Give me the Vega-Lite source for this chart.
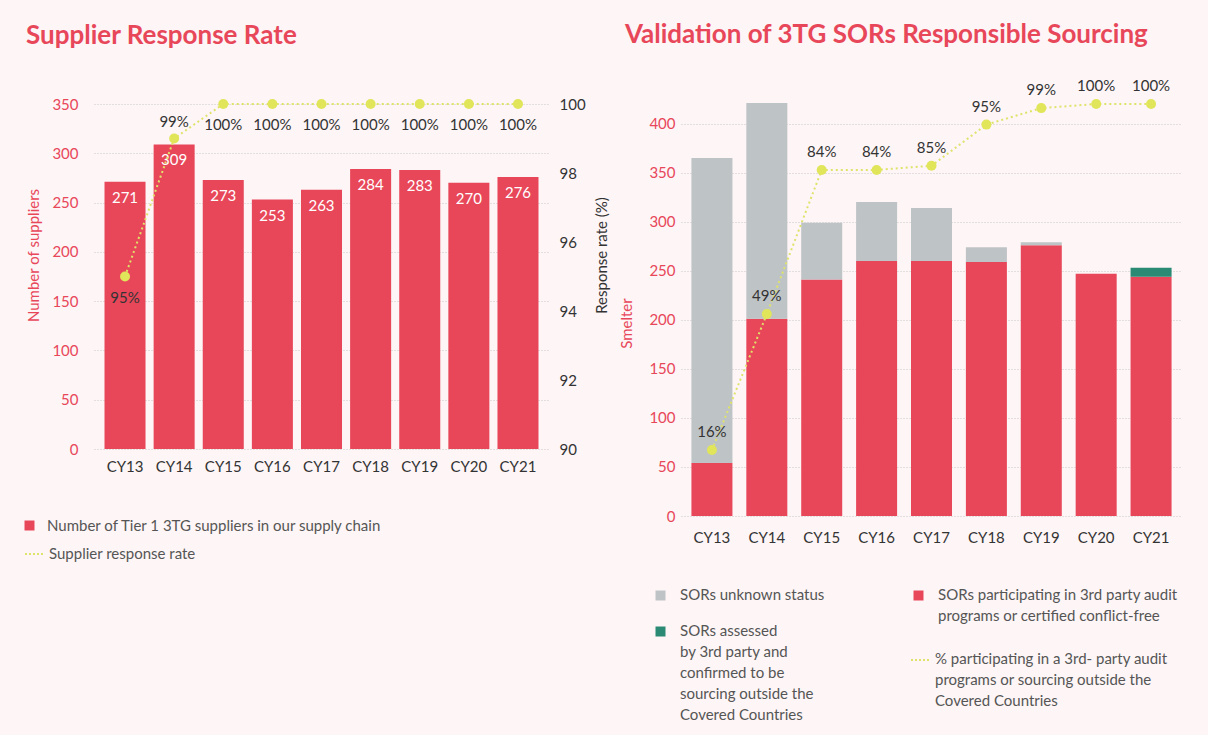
{
  "$schema": "https://vega.github.io/schema/vega-lite/v6.json",
  "background": "#fdf5f6",
  "padding": {"left": 22, "top": 22, "right": 26, "bottom": 12},
  "spacing": 9,
  "config": {
    "font": "Lato",
    "view": {"stroke": null},
    "axis": {
      "labelFont": "Lato", "titleFont": "Lato", "domain": false, "ticks": false,
      "labelFontSize": 15, "titleFontSize": 15, "titleFontWeight": "normal",
      "gridColor": "#c9c9c9", "gridDash": [1, 2], "gridWidth": 1
    },
    "title": {"font": "Lato", "fontSize": 26, "fontWeight": "bold", "color": "#E8475A", "anchor": "start"},
    "legend": {"labelFont": "Lato", "labelFontSize": 15, "labelColor": "#555555"}
  },
  "datasets": {
    "supp": [
      {"year": "CY13", "suppliers": 271, "rate": 95, "label": "95%"},
      {"year": "CY14", "suppliers": 309, "rate": 99, "label": "99%"},
      {"year": "CY15", "suppliers": 273, "rate": 100, "label": "100%"},
      {"year": "CY16", "suppliers": 253, "rate": 100, "label": "100%"},
      {"year": "CY17", "suppliers": 263, "rate": 100, "label": "100%"},
      {"year": "CY18", "suppliers": 284, "rate": 100, "label": "100%"},
      {"year": "CY19", "suppliers": 283, "rate": 100, "label": "100%"},
      {"year": "CY20", "suppliers": 270, "rate": 100, "label": "100%"},
      {"year": "CY21", "suppliers": 276, "rate": 100, "label": "100%"}
    ],
    "sors": [
      {"year": "CY13", "key": "audit", "value": 54},
      {"year": "CY13", "key": "unknown", "value": 311},
      {"year": "CY14", "key": "audit", "value": 201},
      {"year": "CY14", "key": "unknown", "value": 220},
      {"year": "CY15", "key": "audit", "value": 241},
      {"year": "CY15", "key": "unknown", "value": 58},
      {"year": "CY16", "key": "audit", "value": 260},
      {"year": "CY16", "key": "unknown", "value": 60},
      {"year": "CY17", "key": "audit", "value": 260},
      {"year": "CY17", "key": "unknown", "value": 54},
      {"year": "CY18", "key": "audit", "value": 259},
      {"year": "CY18", "key": "unknown", "value": 15},
      {"year": "CY19", "key": "audit", "value": 276},
      {"year": "CY19", "key": "unknown", "value": 3},
      {"year": "CY20", "key": "audit", "value": 247},
      {"year": "CY21", "key": "audit", "value": 244},
      {"year": "CY21", "key": "outside", "value": 9}
    ],
    "pct": [
      {"year": "CY13", "pct": 16, "label": "16%"},
      {"year": "CY14", "pct": 49, "label": "49%"},
      {"year": "CY15", "pct": 84, "label": "84%"},
      {"year": "CY16", "pct": 84, "label": "84%"},
      {"year": "CY17", "pct": 85, "label": "85%"},
      {"year": "CY18", "pct": 95, "label": "95%"},
      {"year": "CY19", "pct": 99, "label": "99%"},
      {"year": "CY20", "pct": 100, "label": "100%"},
      {"year": "CY21", "pct": 100, "label": "100%"}
    ]
  },
  "resolve": {"scale": {"color": "independent", "stroke": "independent", "fill": "independent"}},
  "hconcat": [
    {
      "title": {"text": "Supplier Response Rate", "offset": 48, "dx": 4},
      "width": 455,
      "height": 345,
      "data": {"name": "supp"},
      "encoding": {
        "x": {
          "field": "year", "type": "nominal",
          "scale": {"paddingInner": 0.165, "paddingOuter": 0.214},
          "axis": {"title": null, "labelAngle": 0, "labelColor": "#333333", "labelPadding": 10}
        }
      },
      "layer": [
        {
          "layer": [
            {
              "mark": {"type": "bar"},
              "encoding": {
                "y": {
                  "field": "suppliers", "type": "quantitative",
                  "scale": {"domain": [0, 350], "nice": false},
                  "axis": {
                    "title": "Number of suppliers", "titleColor": "#E8475A", "labelColor": "#E8475A",
                    "values": [0, 50, 100, 150, 200, 250, 300, 350], "grid": true,
                    "labelPadding": 16, "titlePadding": 10, "titleY": 151
                  }
                },
                "color": {
                  "datum": "Number of Tier 1 3TG suppliers in our supply chain", "type": "nominal",
                  "scale": {"range": ["#E8475A"]},
                  "legend": {
                    "title": null, "orient": "none", "legendX": -72, "legendY": 414,
                    "symbolType": "square", "symbolSize": 100, "symbolStrokeWidth": 0,
                    "labelOffset": 10, "labelLimit": 500
                  }
                }
              }
            },
            {
              "mark": {"type": "text", "color": "white", "baseline": "top", "dy": 9, "fontSize": 15},
              "encoding": {
                "y": {"field": "suppliers", "type": "quantitative"},
                "text": {"field": "suppliers", "type": "quantitative"}
              }
            }
          ]
        },
        {
          "layer": [
            {
              "mark": {"type": "line", "strokeDash": [2, 3], "strokeWidth": 2},
              "encoding": {
                "y": {
                  "field": "rate", "type": "quantitative",
                  "scale": {"domain": [90, 100], "nice": false},
                  "axis": {
                    "orient": "right", "title": "Response rate (%)", "titleColor": "#333333",
                    "titleAngle": 270, "titleY": 151,
                    "labelColor": "#333333", "values": [90, 92, 94, 96, 98, 100], "grid": false,
                    "labelPadding": 10, "titlePadding": 24
                  }
                },
                "stroke": {
                  "datum": "Supplier response rate", "type": "nominal",
                  "scale": {"range": ["#E0E36A"]},
                  "legend": {
                    "title": null, "orient": "none", "legendX": -70, "legendY": 439,
                    "symbolType": "stroke", "symbolSize": 400, "symbolStrokeWidth": 2,
                    "symbolDash": [2, 2], "labelOffset": 3, "labelLimit": 500
                  }
                }
              }
            },
            {
              "mark": {"type": "circle", "size": 100, "color": "#E1E55A", "opacity": 1},
              "encoding": {"y": {"field": "rate", "type": "quantitative"}}
            },
            {
              "transform": [{"filter": "datum.year != 'CY14'"}],
              "mark": {"type": "text", "color": "#333333", "fontSize": 15, "dy": 21},
              "encoding": {
                "y": {"field": "rate", "type": "quantitative"},
                "text": {"field": "label", "type": "nominal"}
              }
            },
            {
              "transform": [{"filter": "datum.year == 'CY14'"}],
              "mark": {"type": "text", "color": "#333333", "fontSize": 15, "dy": -17},
              "encoding": {
                "y": {"field": "rate", "type": "quantitative"},
                "text": {"field": "label", "type": "nominal"}
              }
            }
          ]
        }
      ],
      "resolve": {"scale": {"y": "independent"}}
    },
    {
      "title": {"text": "Validation of 3TG SORs Responsible Sourcing", "offset": 31, "dx": 5},
      "width": 501,
      "height": 412,
      "encoding": {
        "x": {
          "field": "year", "type": "nominal",
          "scale": {"paddingInner": 0.253, "paddingOuter": 0.19},
          "axis": {"title": null, "labelAngle": 0, "labelColor": "#333333", "labelPadding": 14}
        }
      },
      "layer": [
        {
          "data": {"name": "sors"},
          "transform": [
            {"stack": "value", "groupby": ["year"], "sort": [{"field": "key", "order": "ascending"}], "as": ["v0", "v1"]}
          ],
          "layer": [
            {
              "transform": [{"filter": "datum.key == 'audit'"}],
              "mark": {"type": "bar"},
              "encoding": {
                "y": {
                  "field": "v1", "type": "quantitative",
                  "scale": {"domain": [0, 420], "nice": false},
                  "axis": {
                    "title": "Smelter", "titleColor": "#E8475A", "labelColor": "#E8475A",
                    "values": [0, 50, 100, 150, 200, 250, 300, 350, 400], "grid": true,
                    "labelPadding": 6, "titlePadding": 14, "titleY": 219
                  }
                },
                "y2": {"field": "v0"},
                "fill": {
                  "datum": "SORs participating in 3rd party audit programs or certified conflict-free", "type": "nominal",
                  "scale": {"range": ["#E8475A"]},
                  "legend": {
                    "title": null, "orient": "none", "legendX": 230, "legendY": 484,
                    "symbolType": "square", "symbolSize": 100, "symbolStrokeWidth": 0,
                    "labelOffset": 12, "labelLimit": 500, "labelBaseline": "top",
                    "labelExpr": "['SORs participating in 3rd party audit', 'programs or certified conflict-free']",
                    "encode": {"labels": {"update": {"dy": {"value": -8}, "lineHeight": {"value": 21}}}}
                  }
                }
              }
            },
            {
              "transform": [{"filter": "datum.key != 'audit'"}],
              "mark": {"type": "bar"},
              "encoding": {
                "y": {"field": "v1", "type": "quantitative", "scale": {"domain": [0, 420], "nice": false}},
                "y2": {"field": "v0"},
                "color": {
                  "field": "key", "type": "nominal",
                  "scale": {"domain": ["unknown", "outside"], "range": ["#BEC3C6", "#2A8A74"]},
                  "legend": {
                    "title": null, "orient": "none", "legendX": -28, "legendY": 484,
                    "rowPadding": 20,
                    "symbolType": "square", "symbolSize": 100, "symbolStrokeWidth": 0,
                    "labelOffset": 12, "labelLimit": 500, "labelBaseline": "top",
                    "labelExpr": "datum.value == 'unknown' ? 'SORs unknown status' : ['SORs assessed', 'by 3rd party and', 'confirmed to be', 'sourcing outside the', 'Covered Countries']",
                    "encode": {"labels": {"update": {"dy": {"value": -8}, "lineHeight": {"value": 21}}}}
                  }
                }
              }
            }
          ]
        },
        {
          "data": {"name": "pct"},
          "layer": [
            {
              "mark": {"type": "line", "strokeDash": [2, 3], "strokeWidth": 2},
              "encoding": {
                "y": {"field": "pct", "type": "quantitative", "scale": {"domain": [0, 100], "nice": false}, "axis": null},
                "stroke": {
                  "datum": "pctline", "type": "nominal",
                  "scale": {"range": ["#E0E36A"]},
                  "legend": {
                    "title": null, "orient": "none", "legendX": 229, "legendY": 545,
                    "symbolType": "stroke", "symbolSize": 400, "symbolStrokeWidth": 2,
                    "symbolDash": [2, 2], "labelOffset": 3, "labelLimit": 500, "labelBaseline": "top",
                    "labelExpr": "['% participating in a 3rd- party audit', 'programs or sourcing outside the', 'Covered Countries']",
                    "encode": {"labels": {"update": {"dy": {"value": -8}, "lineHeight": {"value": 21}}}}
                  }
                }
              }
            },
            {
              "mark": {"type": "circle", "size": 100, "color": "#E1E55A", "opacity": 1},
              "encoding": {"y": {"field": "pct", "type": "quantitative"}}
            },
            {
              "mark": {"type": "text", "color": "#333333", "fontSize": 15, "dy": -18},
              "encoding": {
                "y": {"field": "pct", "type": "quantitative"},
                "text": {"field": "label", "type": "nominal"}
              }
            }
          ]
        }
      ],
      "resolve": {"scale": {"y": "independent"}}
    }
  ]
}
